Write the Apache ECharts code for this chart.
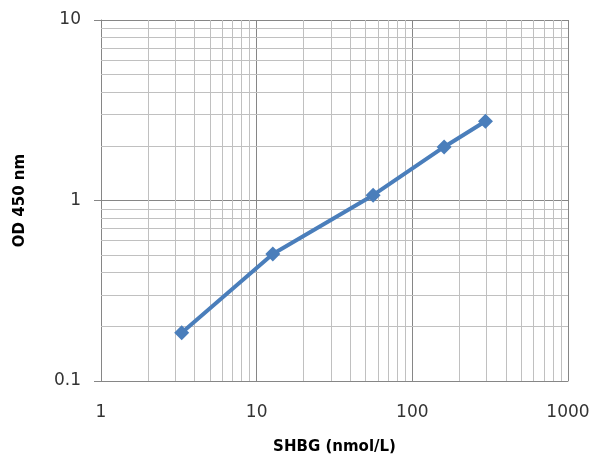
<!DOCTYPE html>
<html>
<head>
<meta charset="utf-8">
<script src="https://cdn.jsdelivr.net/npm/echarts@6/dist/echarts.min.js"></script>
<style>
  html, body { margin: 0; padding: 0; background: #fff; }
  #chart { width: 594px; height: 458px; }
</style>
</head>
<body>
<div id="chart"></div>
<script>
// standard curve points
var conc = [3.3, 12.7, 56, 160, 295]
var od = [0.185, 0.505, 1.07, 1.98, 2.75]

// minor log grid positions
var xMinor = [2, 3, 4, 5, 6, 7, 8, 9, 20, 30, 40, 50, 60, 70, 80, 90, 200, 300, 400, 500, 600, 700, 800, 900]
var yMinor = [0.2, 0.3, 0.4, 0.5, 0.6, 0.7, 0.8, 0.9, 2, 3, 4, 5, 6, 7, 8, 9]

var chart = echarts.init(document.getElementById('chart'))

var minorLines = []
xMinor.forEach(function (v) { minorLines.push({ xAxis: v }) })
yMinor.forEach(function (v) { minorLines.push({ yAxis: v }) })

var labelFont = {
  color: '#333',
  fontSize: 17,
  fontFamily: 'DejaVu Sans',
  formatter: function (v) { return String(v) }
}
var nameFont = { fontWeight: 'bold', fontSize: 15, color: '#000', fontFamily: 'DejaVu Sans' }

chart.setOption({
  animation: false,
  grid: {
    left: 101,
    right: 26,
    top: 20,
    bottom: 77,
    outerBoundsMode: 'none'
  },
  xAxis: {
    type: 'log',
    logBase: 10,
    min: 1,
    max: 1000,
    name: 'SHBG (nmol/L)',
    nameLocation: 'middle',
    nameGap: 59,
    nameTextStyle: nameFont,
    axisLine: { lineStyle: { color: '#868686', width: 1 } },
    axisTick: { show: false },
    axisLabel: Object.assign({ margin: 23 }, labelFont),
    splitLine: { show: true, lineStyle: { color: '#868686', width: 1 } }
  },
  yAxis: {
    type: 'log',
    logBase: 10,
    min: 0.1,
    max: 10,
    name: 'OD 450 nm',
    nameLocation: 'middle',
    nameGap: 73,
    nameRotate: 90,
    nameTextStyle: nameFont,
    axisLine: { show: true, lineStyle: { color: '#868686', width: 1 } },
    axisTick: { show: true, length: 7, lineStyle: { color: '#868686' } },
    axisLabel: Object.assign({ margin: 20 }, labelFont),
    splitLine: { show: true, lineStyle: { color: '#868686', width: 1 } }
  },
  series: [
    {
      type: 'line',
      data: [],
      silent: true,
      z: 1,
      markLine: {
        silent: true,
        symbol: ['none', 'none'],
        label: { show: false },
        lineStyle: { color: '#c0c0c0', width: 1, type: 'solid' },
        data: minorLines
      }
    },
    {
      type: 'line',
      z: 5,
      data: conc.map(function (c, i) { return [c, od[i]] }),
      symbol: 'diamond',
      symbolSize: 15,
      itemStyle: { color: '#4a7ebb' },
      lineStyle: { color: '#4a7ebb', width: 4 }
    }
  ]
})
</script>
</body>
</html>
